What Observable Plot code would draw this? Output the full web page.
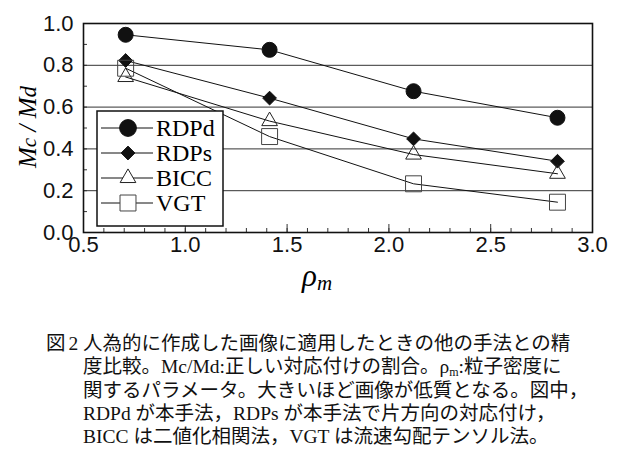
<!DOCTYPE html>
<html><head><meta charset="utf-8">
<script src="https://cdn.jsdelivr.net/npm/d3@7"></script>
<script src="https://cdn.jsdelivr.net/npm/@observablehq/plot@0.6"></script>
<style>
body{margin:0;background:#fff;width:631px;height:456px;overflow:hidden;position:relative;font-family:"Liberation Sans",Arial,sans-serif}
#chart{position:absolute;left:0;top:0}
.lbl{position:absolute;font-family:"Liberation Serif","Times New Roman",serif;font-style:italic;color:#000;white-space:nowrap}
#cap{position:absolute;left:0;top:332px;width:631px;font-family:"Liberation Serif","Noto Sans CJK JP",serif;font-size:19.5px;line-height:23.3px;color:#111}
#cap .num{position:absolute;left:46px;top:0;white-space:nowrap;letter-spacing:-1px}
#cap .txt{position:absolute;left:83px;top:0;white-space:nowrap}
#cap .sub{font-size:12px;line-height:0;vertical-align:-3px}
#legend{position:absolute;left:96px;top:110px}
</style></head><body>
<div id="chart"></div>
<svg id="legend" width="128" height="117"></svg>
<div class="lbl" style="left:28px;top:127px;transform:translate(-50%,-50%) rotate(-90deg);font-size:25px">M<span style="font-size:21px">c</span> / M<span style="font-size:23px">d</span></div>
<div class="lbl" style="left:302px;top:258px;font-size:31px">ρ<span style="font-size:21px;position:relative;top:4px">m</span></div>
<div id="cap"><span class="num">図 2</span><span class="txt">人為的に作成した画像に適用したときの他の手法との精<br>度比較。Mc/Md:正しい対応付けの割合。ρ<span class="sub">m</span>:粒子密度に<br>関するパラメータ。大きいほど画像が低質となる。図中，<br>RDPd が本手法，RDPs が本手法で片方向の対応付け，<br>BICC は二値化相関法，VGT は流速勾配テンソル法。</span></div>
<script>
const rho = [0.707, 1.414, 2.121, 2.828];
const seriesNames = ["RDPd", "RDPs", "BICC", "VGT"];
const rdpd = [0.946, 0.874, 0.676, 0.549];
const rdps = [0.823, 0.643, 0.448, 0.341];
const bicc = [0.744, 0.533, 0.373, 0.281];
const vgt  = [0.786, 0.459, 0.233, 0.145];
const xTicks = [0.5, 1.0, 1.5, 2.0, 2.5, 3.0];
const yTicks = [0.0, 0.2, 0.4, 0.6, 0.8, 1.0];
const gridY = [0.2, 0.4, 0.6, 0.8];

const values = [rdpd, rdps, bicc, vgt];
const data = seriesNames.flatMap((s, i) => rho.map((x, j) => ({series: s, x, y: values[i][j]})));
const sym = {RDPd: {symbol: "circle", r: 7.5, fill: "#111", stroke: "#111"},
             RDPs: {symbol: "diamond2", r: 6.2, fill: "#111", stroke: "#111"},
             BICC: {symbol: "triangle2", r: 7.5, fill: "none", stroke: "#222"},
             VGT:  {symbol: "square", r: 9, fill: "none", stroke: "#444"}};

const minorX = d3.range(5, 31).map(d => d / 10);
const minorY = d3.range(0, 11).map(d => d / 10);

const plot = Plot.plot({
  width: 631, height: 290,
  marginLeft: 83, marginRight: 39, marginTop: 23, marginBottom: 58,
  x: {domain: [0.5, 3.0], label: null},
  y: {domain: [0, 1], label: null},
  style: {fontFamily: "'Liberation Sans', Arial, sans-serif", fontSize: "22px", color: "#111", background: "white"},
  marks: [
    Plot.ruleY(gridY, {stroke: "#333", strokeWidth: 1}),
    Plot.axisX(minorX, {tickSize: -4, text: null, label: null, stroke: "#333"}),
    Plot.axisX(xTicks, {tickSize: -8, tickFormat: ".1f", tickPadding: 12, label: null, fontSize: 22, stroke: "#333"}),
    Plot.axisY(minorY, {tickSize: -4, text: null, label: null, stroke: "#333"}),
    Plot.axisY(yTicks, {tickSize: 0, tickFormat: ".1f", tickPadding: 10, label: null, fontSize: 22}),
    ...seriesNames.map(s => Plot.line(data.filter(d => d.series === s), {x: "x", y: "y", stroke: "#111", strokeWidth: 1})),
    ...seriesNames.map(s => Plot.dot(data.filter(d => d.series === s), {x: "x", y: "y", ...sym[s], strokeWidth: 1})),
    Plot.frame({stroke: "#111", strokeWidth: 1.6})
  ]
});
document.getElementById("chart").appendChild(plot);

// Legend
const lg = d3.select("#legend");
lg.append("rect").attr("x", 1).attr("y", 1).attr("width", 126).attr("height", 115)
  .attr("fill", "white").attr("stroke", "#111").attr("stroke-width", 1.5);
const d3sym = {circle: d3.symbolCircle, diamond2: d3.symbolDiamond2, triangle2: d3.symbolTriangle2, square: d3.symbolSquare};
seriesNames.forEach((s, i) => {
  const y = 18 + i * 25;
  const g = lg.append("g").attr("transform", `translate(0,${y})`);
  g.append("line").attr("x1", 5).attr("x2", 57).attr("y1", 0).attr("y2", 0).attr("stroke", "#111");
  const sp = sym[s];
  g.append("path").attr("transform", "translate(32,0)")
    .attr("d", d3.symbol(d3sym[sp.symbol], Math.PI * sp.r * sp.r * (s === "RDPd" ? 1.25 : 1))())
    .attr("fill", sp.fill === "none" ? "white" : sp.fill).attr("stroke", sp.stroke);
  g.append("text").attr("x", 60).attr("y", 0).attr("dy", "0.35em")
    .attr("font-family", "'Liberation Serif','Times New Roman',serif").attr("font-size", 24).text(s);
});
</script>
</body></html>
